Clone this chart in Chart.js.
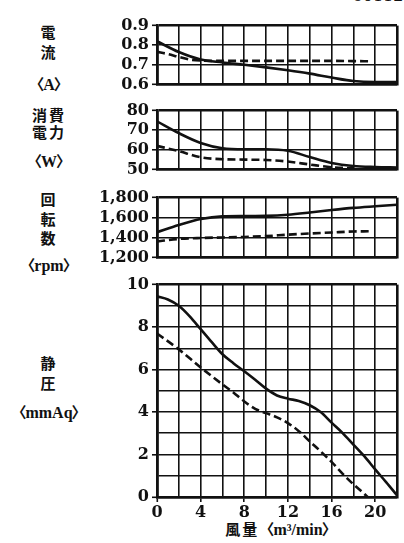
<!DOCTYPE html>
<html>
<head>
<meta charset="utf-8">
<script src="https://cdn.jsdelivr.net/npm/chart.js@4"></script>
<style>
  html, body { margin: 0; padding: 0; background: #fff; }
  body { width: 404px; height: 543px; position: relative; overflow: hidden; }
  canvas { position: absolute; left: 0; }
  .lbl {
    position: absolute; left: 49px; transform: translate(-50%, -50%);
    font-family: "Liberation Serif", "Noto Sans CJK JP", serif; font-weight: bold;
    font-size: 16px; color: #111; white-space: nowrap; line-height: 1;
  }
  .cjk { font-family: "Noto Sans CJK JP", sans-serif; font-size: 15px; letter-spacing: 2px; }
  .bl { font-family: "Noto Sans CJK JP", sans-serif; font-size: 15px; margin-right: -1px; }
  .br { font-family: "Noto Sans CJK JP", sans-serif; font-size: 15px; margin-left: -1px; }
</style>
</head>
<body>
<div class="lbl" style="left:378px;top:-4px;font-family:'DejaVu Serif',serif;font-weight:normal;font-size:16px;">60112</div>

<div class="lbl cjk" style="top:31px;">電</div>
<div class="lbl cjk" style="top:51px;">流</div>
<div class="lbl" style="top:84px;"><span class="bl">〈</span>A<span class="br">〉</span></div>

<div class="lbl cjk" style="top:114px;">消費</div>
<div class="lbl cjk" style="top:131px;">電力</div>
<div class="lbl" style="top:161px;"><span class="bl">〈</span>W<span class="br">〉</span></div>

<div class="lbl cjk" style="top:198px;">回</div>
<div class="lbl cjk" style="top:218px;">転</div>
<div class="lbl cjk" style="top:237px;">数</div>
<div class="lbl" style="top:265px;"><span class="bl">〈</span>rpm<span class="br">〉</span></div>

<div class="lbl cjk" style="top:362px;">静</div>
<div class="lbl cjk" style="top:382px;">圧</div>
<div class="lbl" style="top:412px;"><span class="bl">〈</span>mmAq<span class="br">〉</span></div>

<div class="lbl" style="left:281px;top:529px;"><span class="cjk">風量</span><span class="bl">〈</span>m³/min<span class="br">〉</span></div>

<canvas id="c1" width="404" height="84" style="top:13px"></canvas>
<canvas id="c2" width="404" height="84" style="top:98px"></canvas>
<canvas id="c3" width="404" height="85" style="top:185px"></canvas>
<canvas id="c4" width="404" height="255" style="top:272px"></canvas>

<script>
// ============================
// Data
// ============================
const flow = [0, 2, 4, 6, 8, 10, 12, 14, 16, 18, 20, 22];

// 電流 <A>
const currentSolid = [0.82, 0.765, 0.727, 0.712, 0.70, 0.687, 0.672, 0.655, 0.635, 0.617, 0.612, 0.612];
const currentDashedFlow = [0, 1, 2, 3, 4, 6, 8, 10, 12, 14, 16, 18, 19.5];
const currentDashed = [0.766, 0.755, 0.74, 0.727, 0.722, 0.72, 0.72, 0.72, 0.72, 0.72, 0.72, 0.719, 0.718];

// 消費電力 <W>
const powerSolid = [74.5, 68.5, 63.5, 60.8, 60.3, 60.3, 59.5, 56.3, 53.3, 51.7, 51.2, 51.0];
const powerDashedFlow = [0, 2, 4, 6, 8, 10, 12, 14, 16, 18];
const powerDashed = [62, 59.3, 56.2, 55.2, 55, 54.8, 54, 52.5, 51.1, 50.6];

// 回転数 <rpm>
const rpmSolid = [1452, 1525, 1585, 1612, 1615, 1617, 1628, 1650, 1675, 1697, 1713, 1728];
const rpmDashedFlow = [0, 2, 4, 6, 8, 10, 12, 14, 16, 18, 19.5];
const rpmDashed = [1360, 1385, 1395, 1400, 1405, 1414, 1428, 1440, 1450, 1460, 1462];

// 静圧 <mmAq>
const pressureFlow = [0, 1, 2, 3, 4, 5, 6, 7, 8, 9, 10, 11, 12, 13, 14, 15, 16, 17, 18, 19, 20, 21, 22];
const pressureSolid = [9.45, 9.3, 9.0, 8.5, 7.9, 7.3, 6.72, 6.3, 5.92, 5.52, 5.1, 4.78, 4.63, 4.52, 4.32, 4.0, 3.5, 3.02, 2.47, 1.92, 1.3, 0.7, 0.08];
const pressureDashedFlow = [0, 2, 4, 6, 7, 8, 9, 10, 11, 12, 13, 14, 15, 16, 17, 18, 19, 19.3];
const pressureDashed = [7.7, 6.95, 6.1, 5.3, 4.92, 4.5, 4.15, 3.95, 3.75, 3.48, 3.1, 2.62, 2.15, 1.65, 1.1, 0.6, 0.15, 0.0];

// x tick labels shown under the bottom panel
const flowTickLabels = [0, 4, 8, 12, 16, 20];

// ============================
// Helpers
// ============================
const INK = "#111";
const tickFont = { family: "'DejaVu Serif', serif", size: 16, weight: "bold" };

function pairs(xs, ys) {
    return xs.map((x, i) => ({ x: x, y: ys[i] }));
}

function edgeWidth(min, max) {
    return ctx => {
        const v = ctx.tick ? ctx.tick.value : null;
        return (Math.abs(v - min) < 1e-6 || Math.abs(v - max) < 1e-6) ? 2.6 : 1.6;
    };
}

function makePanel(id, y, solid, dashed, bottom) {
    const ctx = document.getElementById(id).getContext("2d");
    return new Chart(ctx, {
        type: "line",
        data: {
            datasets: [
                {
                    data: solid,
                    borderColor: INK,
                    borderWidth: 2.6,
                    pointRadius: 0,
                    cubicInterpolationMode: "monotone",
                    fill: false
                },
                {
                    data: dashed,
                    borderColor: INK,
                    borderWidth: 2.6,
                    borderDash: [8, 4],
                    pointRadius: 0,
                    cubicInterpolationMode: "monotone",
                    fill: false
                }
            ]
        },
        options: {
            responsive: false,
            animation: false,
            events: [],
            layout: { padding: { left: 0, right: 7, top: 10, bottom: bottom ? 6 : 10 } },
            plugins: { legend: { display: false }, tooltip: { enabled: false } },
            scales: {
                x: {
                    type: "linear",
                    min: 0,
                    max: 22,
                    afterFit: s => { s.height = bottom ? 24 : 0; },
                    border: { color: INK, width: 2.6 },
                    grid: {
                        color: INK,
                        lineWidth: edgeWidth(0, 22),
                        drawTicks: bottom,
                        tickLength: 5,
                        tickWidth: 1.6,
                        tickColor: c => (c.tick && flowTickLabels.includes(c.tick.value)) ? INK : "rgba(0,0,0,0)"
                    },
                    ticks: {
                        display: bottom,
                        stepSize: 2,
                        autoSkip: false,
                        maxRotation: 0,
                        padding: 1,
                        color: INK,
                        font: tickFont,
                        callback: v => flowTickLabels.includes(v) ? String(v) : ""
                    }
                },
                y: {
                    min: y.min,
                    max: y.max,
                    afterFit: s => { s.width = 157; },
                    border: { color: INK, width: 2.6 },
                    grid: {
                        color: INK,
                        lineWidth: edgeWidth(y.min, y.max),
                        tickLength: 5,
                        tickWidth: 1.6,
                        tickColor: c => (c.tick && y.labelled(c.tick.value)) ? INK : "rgba(0,0,0,0)"
                    },
                    ticks: {
                        stepSize: y.step,
                        autoSkip: false,
                        padding: 3,
                        color: INK,
                        font: tickFont,
                        callback: v => y.labelled(v) ? y.fmt(v) : ""
                    }
                }
            }
        }
    });
}

// ============================
// Panels
// ============================
makePanel("c1",
    { min: 0.6, max: 0.9, step: 0.1, labelled: () => true, fmt: v => v.toFixed(1) },
    pairs(flow, currentSolid), pairs(currentDashedFlow, currentDashed), false);

makePanel("c2",
    { min: 50, max: 80, step: 10, labelled: () => true, fmt: v => String(v) },
    pairs(flow, powerSolid), pairs(powerDashedFlow, powerDashed), false);

makePanel("c3",
    { min: 1200, max: 1800, step: 200, labelled: () => true, fmt: v => v.toLocaleString("en-US") },
    pairs(flow, rpmSolid), pairs(rpmDashedFlow, rpmDashed), false);

makePanel("c4",
    { min: 0, max: 10, step: 1, labelled: v => Math.round(v) % 2 === 0, fmt: v => String(v) },
    pairs(pressureFlow, pressureSolid), pairs(pressureDashedFlow, pressureDashed), true);
</script>
</body>
</html>
